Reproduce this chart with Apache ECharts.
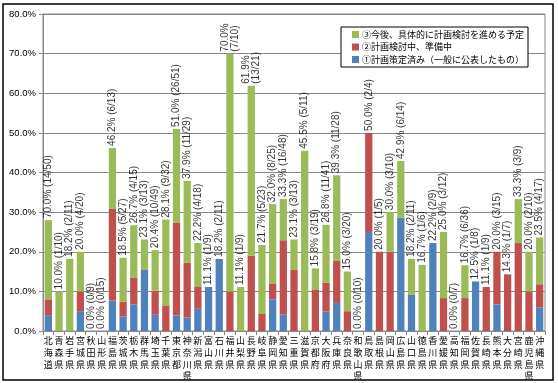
<!DOCTYPE html>
<html><head><meta charset="utf-8">
<script src="https://cdn.jsdelivr.net/npm/echarts@6/dist/echarts.min.js"></script>
<style>html,body{margin:0;padding:0;background:#fff}#c{width:558px;height:383px}</style>
</head><body><div id="c"></div>
<script>
const categories = ["北海道","青森県","岩手県","宮城県","秋田県","山形県","福島県","茨城県","栃木県","群馬県","埼玉県","千葉県","東京都","神奈川県","新潟県","富山県","石川県","福井県","山梨県","長野県","岐阜県","静岡県","愛知県","三重県","滋賀県","京都府","大阪府","兵庫県","奈良県","和歌山県","鳥取県","島根県","岡山県","広島県","山口県","徳島県","香川県","愛媛県","高知県","福岡県","佐賀県","長崎県","熊本県","大分県","宮崎県","鹿児島県","沖縄県"];
const seriesNames = ["①計画策定済み（一般に公表したもの）","②計画検討中、準備中","③今後、具体的に計画検討を進める予定"];
const planned = [4.0,0,0,5.0,0,0,7.7,3.7,6.7,15.4,4.1,0,3.9,3.4,5.6,11.1,18.2,0,0,0,0,8.0,4.2,0,0,0,4.9,7.1,0,0,25.0,0,0,28.6,9.1,0,22.2,0,0,0,12.5,0,6.7,0,0,0,5.9];
const preparing = [4.0,0,0,5.0,0,0,23.1,3.7,6.7,0,6.1,6.3,23.5,13.8,5.5,0,0,10.0,0,19.0,4.3,4.0,18.7,15.4,0,10.5,7.3,10.7,5.0,0,25.0,20.0,20.0,0,0,0,0,8.3,0,8.3,0,11.1,13.3,14.3,22.2,10.0,5.9];
const future = [20.0,10.0,18.2,10.0,0,0,15.4,11.1,13.3,7.7,10.2,21.8,23.6,20.7,11.1,0,0,60.0,11.1,42.9,17.4,20.0,10.4,7.7,45.5,5.3,14.6,21.5,10.0,0,0,0,10.0,14.3,9.1,16.7,0,16.7,0,8.3,0,0,0,0,11.1,10.0,11.8];
const barLabels = ["70.0% (14/50)","10.0% (1/10)","18.2% (2/11)","20.0% (4/20)","0.0% (0/9)","0.0% (0/15)","46.2% (6/13)","18.5% (5/27)","26.7% (4/15)","23.1% (3/13)","20.4% (10/49)","28.1% (9/32)","51.0% (26/51)","37.9% (11/29)","22.2% (4/18)","11.1% (1/9)","18.2% (2/11)","70.0%\n(7/10)","11.1% (1/9)","61.9%\n(13/21)","21.7% (5/23)","32.0% (8/25)","33.3% (16/48)","23.1% (3/13)","45.5% (5/11)","15.8% (3/19)","26.8% (11/41)","39.3% (11/28)","15.0% (3/20)","0.0% (0/10)","50.0% (2/4)","20.0% (1/5)","30.0% (3/10)","42.9% (6/14)","18.2% (2/11)","16.7% (1/6)","22.2% (2/9)","25.0% (3/12)","0.0% (0/7)","16.7% (6/36)","12.5% (1/8)","11.1% (1/9)","20.0% (3/15)","14.3% (1/7)","33.3% (3/9)","20.0% (2/10)","23.5% (4/17)"];
const yTicks = {min:0, max:80, interval:10};

const totals = categories.map((c,i)=>+(planned[i]+preparing[i]+future[i]).toFixed(1));
const colors = ['#4F81BD','#C0504D','#9BBB59'];
const chart = echarts.init(document.getElementById('c'));
const font = '"Liberation Sans","Noto Sans CJK JP",sans-serif';
const cjk = '"Noto Sans CJK JP",sans-serif';
function barSeries(name, data, color){
  return {name, type:'bar', stack:'s', data, barWidth:'68%', itemStyle:{color}, silent:true, animation:false};
}
chart.setOption({
  animation:false,
  graphic:[{type:'rect', shape:{x:3,y:4,width:550,height:376}, style:{fill:'none', stroke:'#000', lineWidth:1.5}, z:-1}],
  grid:{left:43, right:13, top:14, bottom:52, show:true, borderColor:'#888', borderWidth:1},
  legend:{
    data:[seriesNames[2], seriesNames[1], seriesNames[0]],
    orient:'vertical', left:341, top:27,
    backgroundColor:'#fff', borderColor:'#000', borderWidth:1, padding:[3,4,3,11],
    itemWidth:7, itemHeight:7, itemGap:3.5, icon:'rect',
    textStyle:{fontFamily:cjk, fontSize:9, color:'#000', padding:[0,0,0,-2]}
  },
  xAxis:{
    type:'category', data:categories,
    axisLine:{lineStyle:{color:'#888'}},
    axisTick:{show:true, length:4, lineStyle:{color:'#888'}},
    axisLabel:{interval:0, fontFamily:cjk, fontSize:9, lineHeight:11.7, color:'#000', margin:4,
      formatter:v=>v.split('').join('\n')}
  },
  yAxis:{
    type:'value', min:yTicks.min, max:yTicks.max, interval:yTicks.interval,
    axisLine:{show:true, lineStyle:{color:'#888'}},
    axisTick:{show:true, length:4, lineStyle:{color:'#888'}},
    splitLine:{lineStyle:{color:'#888'}},
    axisLabel:{fontFamily:font, fontSize:9.5, color:'#000', margin:7, formatter:v=>v.toFixed(1)+'%'}
  },
  series:[
    barSeries(seriesNames[0], planned, colors[0]),
    barSeries(seriesNames[1], preparing, colors[1]),
    barSeries(seriesNames[2], future, colors[2]),
    {name:'labels', type:'scatter', data:totals, symbolSize:0, silent:true, z:10,
      label:{show:true, position:'top', distance:2, rotate:90, align:'left', verticalAlign:'middle',
        fontFamily:font, fontSize:10, color:'#000', lineHeight:10,
        formatter:p=>barLabels[p.dataIndex]}}
  ]
});
</script></body></html>
